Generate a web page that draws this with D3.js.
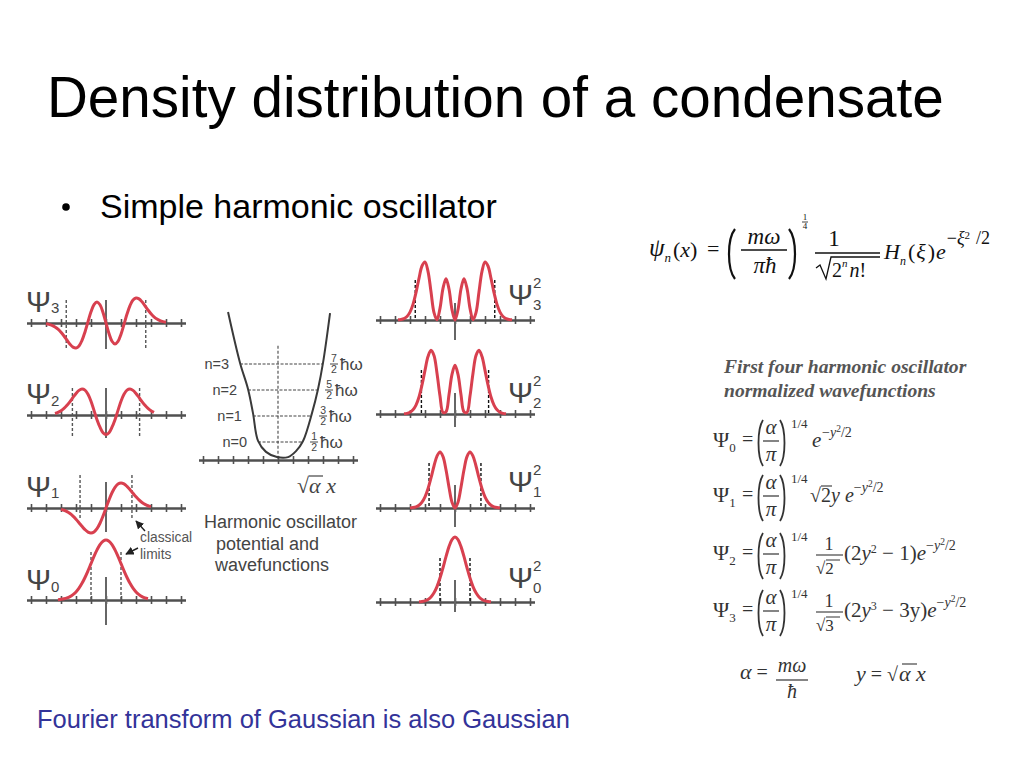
<!DOCTYPE html>
<html><head><meta charset="utf-8">
<script src="https://cdn.jsdelivr.net/npm/d3@7"></script>
<style>body{margin:0;background:#fff}svg{display:block}</style>
</head><body>
<script>
// ================= DATA =================
const title = "Density distribution of a condensate";
const bullet = "Simple harmonic oscillator";
const footer = "Fourier transform of Gaussian is also Gaussian";

// sample positions (in tick units, sqrt(alpha) x)
const xs = [-4,-3.8,-3.6,-3.4,-3.2,-3,-2.8,-2.6,-2.4,-2.2,-2,-1.8,-1.6,-1.4,-1.2,-1,-0.8,-0.6,-0.4,-0.2,0,
            0.2,0.4,0.6,0.8,1,1.2,1.4,1.6,1.8,2,2.2,2.4,2.6,2.8,3,3.2,3.4,3.6,3.8,4];
const tickVals = [-5,-4,-3,-2,-1,0,1,2,3,4,5];

// wavefunctions (relative amplitude)
const psi0 = [null,null,null,null,.006,.011,.020,.034,.056,.089,.135,.198,.278,.375,.487,.607,.726,.835,.923,.980,1,
              .980,.923,.835,.726,.607,.487,.375,.278,.198,.135,.089,.056,.034,.020,null,null,null,null,null,null];
const psi1 = [null,null,null,null,null,-.055,-.091,-.146,-.222,-.322,-.446,-.587,-.733,-.866,-.963,-1,-.958,-.826,-.609,-.323,0,
              .323,.609,.826,.958,1,.963,.866,.733,.587,.446,.322,.222,.146,.091,.055,null,null,null,null,null];
const psi2 = [null,null,null,.059,.101,.165,.254,.372,.515,.674,.826,.947,.999,.956,.798,.530,.177,-.18,-.47,-.68,-.75,
              -.68,-.47,-.18,.177,.530,.798,.956,.999,.947,.826,.674,.515,.372,.254,.165,.101,null,null,null,null];
const psi3 = [-.029,-.053,-.093,-.156,-.247,-.369,-.519,-.687,-.848,-.965,-1,-.916,-.697,-.357,.052,.448,.738,.844,.731,.423,0,
              -.423,-.731,-.844,-.738,-.448,-.052,.357,.697,.916,1,.965,.848,.687,.519,.369,.247,.156,.093,.053,.029];

// probability densities
const psi0sq = [null,null,null,null,null,null,null,null,.003,.008,.018,.039,.077,.141,.237,.368,.527,.698,.852,.961,1,
                .961,.852,.698,.527,.368,.237,.141,.077,.039,.018,.008,.003,null,null,null,null,null,null,null,null];
const psi1sq = [null,null,null,null,null,.003,.008,.021,.049,.104,.199,.345,.537,.750,.927,1,.918,.682,.371,.104,0,
                .104,.371,.682,.918,1,.927,.750,.537,.345,.199,.104,.049,.021,.008,.003,null,null,null,null,null];
const psi2sq = [null,null,null,.003,.010,.027,.065,.138,.265,.454,.682,.897,.998,.914,.637,.281,.025,.035,.300,.619,.762,
                .619,.300,.035,.025,.281,.637,.914,.998,.897,.682,.454,.265,.138,.065,.027,.010,.003,null,null,null];
const psi3sq = [null,.003,.009,.024,.061,.136,.269,.472,.719,.931,1,.839,.486,.127,.003,.201,.545,.712,.534,.179,0,
                .179,.534,.712,.545,.201,.003,.127,.486,.839,1,.931,.719,.472,.269,.136,.061,.024,.009,.003,null];

// classical turning points for n = 0..3
const classicalLimits = [1.0, 1.73, 2.24, 2.65];

// potential well (u, energy in units of hbar*omega)
const potU = [-3.33,-2.53,-2.0,-1.67,-1.33,-0.8,-0.07,0.67,1.2,1.67,2.27,2.67,3.0,3.47];
const potE = [5.5,3.54,2.54,1.62,0.54,0.12,-0.08,-0.08,0.15,0.54,1.62,2.54,3.54,5.46];
const levelN = ["n=0","n=1","n=2","n=3"];
const levelE = [0.5,1.5,2.5,3.5];
const levelNum = ["1","3","5","7"];
const levelLeft = [-1.33,-1.67,-2.0,-2.53];
const levelRight = [1.67,2.27,2.67,3.0];

// ================= DRAWING =================
const W = 1024, H = 768;
const SANS = "'Liberation Sans', Arial, Helvetica, sans-serif";
const SERIF = "'Liberation Serif', 'Times New Roman', serif";
const RED = "#d8404f", AX = "#505050", GR = "#444";

const svg = d3.select("body").append("svg").attr("width", W).attr("height", H);
svg.append("rect").attr("width", W).attr("height", H).attr("fill", "#fff");

function txt(g, x, y, s, o = {}) {
  const t = g.append("text").attr("x", x).attr("y", y).text(s)
    .attr("font-family", o.ff || SANS).attr("font-size", o.fs || 16).attr("fill", o.fill || "#000");
  if (o.fw) t.attr("font-weight", o.fw);
  if (o.fst) t.attr("font-style", o.fst);
  if (o.anchor) t.attr("text-anchor", o.anchor);
  return t;
}
function ln(g, x1, y1, x2, y2, o = {}) {
  const l = g.append("line").attr("x1", x1).attr("y1", y1).attr("x2", x2).attr("y2", y2)
    .attr("stroke", o.stroke || "#000").attr("stroke-width", o.sw || 1.2);
  if (o.dash) l.attr("stroke-dasharray", o.dash);
  return l;
}
const styleAxis = sel => {
  sel.select(".domain").attr("stroke", AX).attr("stroke-width", 2);
  sel.selectAll(".tick line").attr("stroke", AX).attr("stroke-width", 1.6);
  sel.selectAll(".tick text").remove();
};

// Title, bullet, footer
txt(svg, 47, 117, title, {fs: 56.6});
svg.append("circle").attr("cx", 66).attr("cy", 207).attr("r", 3.8).attr("fill", "#000");
txt(svg, 100, 218, bullet, {fs: 34});
txt(svg, 37, 728, footer, {fs: 25.5, fill: "#333399"});

// ---------- wavefunction panels ----------
function drawPanel(p, cx) {
  const x = d3.scaleLinear().domain([-5.3, 5.3]).range([cx - 15 * 5.3, cx + 15 * 5.3]);
  const y = d3.scaleLinear().domain([0, 1]).range([p.axisY, p.axisY - p.amp]);
  const g = svg.append("g");
  g.append("g").attr("transform", `translate(0,${p.axisY})`)
    .call(d3.axisBottom(x).tickValues(tickVals).tickSize(4).tickSizeOuter(0).tickFormat(""))
    .call(styleAxis);
  g.append("g").attr("transform", `translate(0,${p.axisY})`)
    .call(d3.axisTop(x).tickValues(tickVals).tickSize(4).tickSizeOuter(0).tickFormat(""))
    .call(styleAxis);
  // centre line
  ln(g, x(0), p.axisY + p.c[0], x(0), p.axisY + p.c[1], {stroke: "#666", sw: 2});
  // classical limits
  [-p.lim, p.lim].forEach(v =>
    ln(g, x(v), p.axisY + p.d[0], x(v), p.axisY + p.d[1], {stroke: p.dc || "#555", sw: 1.4, dash: "3,2"}));
  const line = d3.line().defined(d => d[1] != null)
    .x(d => x(d[0])).y(d => y(d[1])).curve(d3.curveCatmullRom.alpha(0.5));
  g.append("path").attr("d", line(xs.map((u, i) => [u, p.vals[i]])))
    .attr("fill", "none").attr("stroke", RED).attr("stroke-width", 3).attr("stroke-linejoin", "round");
  // label (one text element with sub/superscripts)
  const t = txt(g, p.lx, p.ly, "Ψ", {fs: 30, fill: GR});
  if (p.sup) {
    t.append("tspan").text("2").attr("font-size", 15).attr("dx", 0).attr("dy", -17);
    t.append("tspan").text(p.sub).attr("font-size", 15).attr("dx", -8.5).attr("dy", 17 + p.subDy);
  } else {
    t.append("tspan").text(p.sub).attr("font-size", 15).attr("dy", p.subDy);
  }
}

const leftPanels = [
  {vals: psi3, axisY: 323, amp: 25, lim: classicalLimits[3], c: [-23, 26], d: [-23, 25], sub: "3", lx: 26, ly: 312, subDy: 1},
  {vals: psi2, axisY: 415, amp: 26, lim: classicalLimits[2], c: [-27, 23], d: [-27, 23], sub: "2", lx: 26, ly: 404, subDy: 2},
  {vals: psi1, axisY: 508, amp: 25, lim: classicalLimits[1], c: [-26, 24], d: [-33, 12], sub: "1", lx: 26, ly: 497, subDy: 1},
  {vals: psi0, axisY: 600, amp: 60, lim: classicalLimits[0], c: [-23, 25], d: [-48, 0], sub: "0", lx: 26, ly: 590, subDy: 2}
];
leftPanels.forEach(p => drawPanel(p, 106));

const rightPanels = [
  {vals: psi3sq, axisY: 320, amp: 58, lim: classicalLimits[3], c: [-17, 20], d: [-40, 0], sub: "3", lx: 508, ly: 305, subDy: 5, sup: true, dc: "#111"},
  {vals: psi2sq, axisY: 414, amp: 64, lim: classicalLimits[2], c: [-21, 13], d: [-44, 0], sub: "2", lx: 508, ly: 403, subDy: 5, sup: true, dc: "#111"},
  {vals: psi1sq, axisY: 508, amp: 56, lim: classicalLimits[1], c: [-23, 19], d: [-45, 0], sub: "1", lx: 508, ly: 492, subDy: 5, sup: true, dc: "#111"},
  {vals: psi0sq, axisY: 602, amp: 65, lim: classicalLimits[0], c: [-22, 10], d: [-44, 0], sub: "0", lx: 508, ly: 588, subDy: 5, sup: true, dc: "#111"}
];
rightPanels.forEach(p => drawPanel(p, 455));

// classical limits annotation
const ann = svg.append("g");
svg.append("defs").append("marker").attr("id", "ah").attr("viewBox", "0 0 10 10")
  .attr("refX", 9).attr("refY", 5).attr("markerWidth", 6).attr("markerHeight", 6).attr("orient", "auto")
  .append("path").attr("d", "M0,0 L10,5 L0,10 z").attr("fill", "#222");
ln(ann, 145, 531, 136, 521, {stroke: "#222", sw: 1.4}).attr("marker-end", "url(#ah)");
ln(ann, 138, 548, 126, 554, {stroke: "#222", sw: 1.4}).attr("marker-end", "url(#ah)");
txt(ann, 140, 542, "classical", {fs: 13.8, fill: "#555"});
txt(ann, 140, 559, "limits", {fs: 13.8, fill: "#555"});

// ---------- potential well ----------
(function () {
  const cx = 278;
  const x = d3.scaleLinear().domain([-5.3, 5.3]).range([cx - 15 * 5.3, cx + 15 * 5.3]);
  const y = d3.scaleLinear().domain([0, 5.5]).range([455, 312]);
  const g = svg.append("g");
  const axY = 460;
  g.append("g").attr("transform", `translate(0,${axY})`)
    .call(d3.axisBottom(x).tickValues(tickVals).tickSize(4).tickSizeOuter(0).tickFormat("")).call(styleAxis);
  g.append("g").attr("transform", `translate(0,${axY})`)
    .call(d3.axisTop(x).tickValues(tickVals).tickSize(4).tickSizeOuter(0).tickFormat("")).call(styleAxis);
  ln(g, x(0), y(4.2), x(0), axY, {stroke: "#555", sw: 1.2, dash: "3,2"});
  levelE.forEach((e, i) => {
    ln(g, x(levelLeft[i]), y(e), x(levelRight[i]), y(e), {stroke: "#444", sw: 1.2, dash: "3,1.5"});
    txt(g, x(levelLeft[i]) - 11, y(e) + 5, levelN[i], {fs: 14.5, fill: GR, anchor: "end"});
    const fx = x(levelRight[i]) + 11;
    txt(g, fx, y(e) - 2, levelNum[i], {fs: 10.5, fill: GR, anchor: "middle"});
    ln(g, fx - 4, y(e), fx + 4, y(e), {stroke: GR, sw: 1});
    txt(g, fx, y(e) + 9, "2", {fs: 10.5, fill: GR, anchor: "middle"});
    txt(g, fx + 6, y(e) + 6, "ħω", {fs: 17, fill: GR});
  });
  const line = d3.line().x(d => x(d[0])).y(d => y(d[1])).curve(d3.curveCatmullRom.alpha(0.5));
  g.append("path").attr("d", line(potU.map((u, i) => [u, potE[i]])))
    .attr("fill", "none").attr("stroke", "#3a3a3a").attr("stroke-width", 2);
  // sqrt(alpha) x
  const sq = txt(g, 297, 493, "√", {ff: SERIF, fs: 22, fill: GR});
  sq.append("tspan").text("α").attr("font-style", "italic");
  sq.append("tspan").text(" x").attr("font-style", "italic");
  ln(g, 309, 476, 323, 476, {stroke: GR, sw: 1.2});
  txt(g, 204, 528, "Harmonic oscillator", {fs: 18, fill: GR});
  txt(g, 216, 550, "potential and", {fs: 18, fill: GR});
  txt(g, 215, 571, "wavefunctions", {fs: 18, fill: GR});
})();

// ---------- formulas ----------
function paren(g, x, y1, y2, w, right, col, sw) {
  const s = right ? -1 : 1;
  const h = y2 - y1;
  g.append("path")
    .attr("d", `M${x + s * w},${y1} C${x},${y1 + h * 0.2} ${x},${y2 - h * 0.2} ${x + s * w},${y2}`)
    .attr("fill", "none").attr("stroke", col).attr("stroke-width", sw || 2);
}
(function () {
  const g = svg.append("g");
  const c = "#111";
  const o = (fs, it) => ({ff: SERIF, fs: fs, fill: c, fst: it ? "italic" : null});
  const t0 = txt(g, 649, 256, "ψ", o(25, true));
  t0.append("tspan").text("n").attr("font-size", 13).attr("dy", 6);
  const t1 = txt(g, 673, 257, "(", o(22));
  t1.append("tspan").text("x").attr("font-style", "italic");
  t1.append("tspan").text(")");
  txt(g, 707, 256, "=", o(22));
  paren(g, 727, 229, 279, 8, false, c, 2.2);
  txt(g, 764, 244, "mω", o(23, true)).attr("text-anchor", "middle");
  ln(g, 741, 250, 787, 250, {stroke: c, sw: 1.4});
  txt(g, 765, 273, "πħ", o(23, true)).attr("text-anchor", "middle");
  paren(g, 797, 229, 279, 8, true, c, 2.2);
  txt(g, 805, 220, "1", o(9)).attr("text-anchor", "middle");
  ln(g, 802, 222, 808, 222, {stroke: c, sw: 0.8});
  txt(g, 805, 229, "4", o(9)).attr("text-anchor", "middle");
  txt(g, 834, 246, "1", o(23)).attr("text-anchor", "middle");
  ln(g, 815, 253, 880, 253, {stroke: c, sw: 1.4});
  g.append("path").attr("d", "M816,268 L820,265 L826,279 L831,257 L880,257")
    .attr("fill", "none").attr("stroke", c).attr("stroke-width", 1.3);
  const t2 = txt(g, 832, 277, "2", o(20));
  t2.append("tspan").text("n").attr("font-size", 11).attr("font-style", "italic").attr("dy", -10);
  t2.append("tspan").text("n").attr("font-style", "italic").attr("dx", 2).attr("dy", 10);
  t2.append("tspan").text("!");
  const t3 = txt(g, 884, 259, "H", o(22, true));
  t3.append("tspan").text("n").attr("font-size", 12).attr("dy", 6);
  t3.append("tspan").text("(").attr("font-style", "normal").attr("dx", 2).attr("dy", -6);
  t3.append("tspan").text("ξ").attr("dx", 1);
  t3.append("tspan").text(")").attr("font-style", "normal").attr("dx", 2);
  t3.append("tspan").text("e").attr("dx", 1);
  t3.append("tspan").text("−").attr("font-style", "normal").attr("font-size", 18).attr("dx", 1).attr("dy", -15);
  t3.append("tspan").text("ξ").attr("font-size", 18);
  t3.append("tspan").text("2").attr("font-style", "normal").attr("font-size", 11).attr("dy", -5);
  t3.append("tspan").text("/2").attr("font-style", "normal").attr("font-size", 18).attr("dx", 6).attr("dy", 5);
})();

(function () {
  const g = svg.append("g");
  const c = "#333";
  const o = (fs, it) => ({ff: SERIF, fs: fs, fill: c, fst: it ? "italic" : null});
  txt(g, 724, 373, "First four harmonic oscillator", {ff: SERIF, fs: 19.6, fill: "#555", fw: "bold", fst: "italic"});
  txt(g, 724, 397, "normalized wavefunctions", {ff: SERIF, fs: 19.6, fill: "#555", fw: "bold", fst: "italic"});
  const rows = [447, 502, 560, 617];
  const expo = (x, y) => {
    const t = txt(g, x, y, "−", o(14));
    t.append("tspan").text("y").attr("font-style", "italic");
    t.append("tspan").text("2").attr("font-size", 9.5).attr("dy", -5);
    t.append("tspan").text("/2").attr("dy", 5);
  };
  rows.forEach((b, i) => {
    const ps = txt(g, 713, b, "Ψ", o(22));
    ps.append("tspan").text(String(i)).attr("font-size", 13).attr("dy", 5);
    txt(g, 742, b - 1, "=", o(20));
    paren(g, 757, b - 27, b + 19, 6, false, c, 1.8);
    txt(g, 771, b - 13, "α", o(21, true)).attr("text-anchor", "middle");
    ln(g, 763, b - 6, 779, b - 6, {stroke: c, sw: 1.2});
    txt(g, 771, b + 14, "π", o(21, true)).attr("text-anchor", "middle");
    paren(g, 786, b - 27, b + 19, 6, true, c, 1.8);
    txt(g, 791, b - 19, "1/4", o(13));
  });
  // row 0
  txt(g, 812, rows[0], "e", o(21, true));
  expo(822, rows[0] - 10);
  // row 1
  const r1 = txt(g, 810, rows[1], "√", o(20));
  r1.append("tspan").text("2");
  r1.append("tspan").text("y").attr("font-style", "italic");
  r1.append("tspan").text(" e").attr("font-style", "italic");
  ln(g, 821, rows[1] - 16, 832, rows[1] - 16, {stroke: c, sw: 1.1});
  expo(810 + r1.node().getComputedTextLength(), rows[1] - 10);
  // rows 2, 3
  [[2, "2", "(2", "2", " − 1)"], [3, "3", "(2", "3", " − 3y)"]].forEach(([r, root, a, pw, bb]) => {
    const b = rows[r];
    txt(g, 829, b - 10, "1", o(18)).attr("text-anchor", "middle");
    ln(g, 816, b - 5, 843, b - 5, {stroke: c, sw: 1.1});
    const rt = txt(g, 816, b + 14, "√", o(17));
    rt.append("tspan").text(root);
    ln(g, 826, b, 840, b, {stroke: c, sw: 1.0});
    const t = txt(g, 844, b, a, o(21));
    t.append("tspan").text("y").attr("font-style", "italic");
    t.append("tspan").text(pw).attr("font-size", 12).attr("dy", -7);
    t.append("tspan").text(bb).attr("dy", 7);
    t.append("tspan").text("e").attr("font-style", "italic");
    const bbox = t.node().getComputedTextLength();
    expo(844 + bbox, b - 10);
  });
  // alpha definition and y
  const a1 = txt(g, 740, 679, "α", o(22, true));
  a1.append("tspan").text(" =").attr("font-style", "normal").attr("font-size", 20);
  txt(g, 792, 672, "mω", o(20, true)).attr("text-anchor", "middle");
  ln(g, 776, 680, 808, 680, {stroke: c, sw: 1.2});
  txt(g, 792, 698, "ħ", o(20, true)).attr("text-anchor", "middle");
  const y1 = txt(g, 856, 681, "y", o(22, true));
  y1.append("tspan").text(" = √").attr("font-style", "normal").attr("font-size", 20);
  y1.append("tspan").text("α").attr("dx", 1);
  y1.append("tspan").text(" x");
  ln(g, 902, 664, 917, 664, {stroke: c, sw: 1.1});
})();
</script>
</body></html>
